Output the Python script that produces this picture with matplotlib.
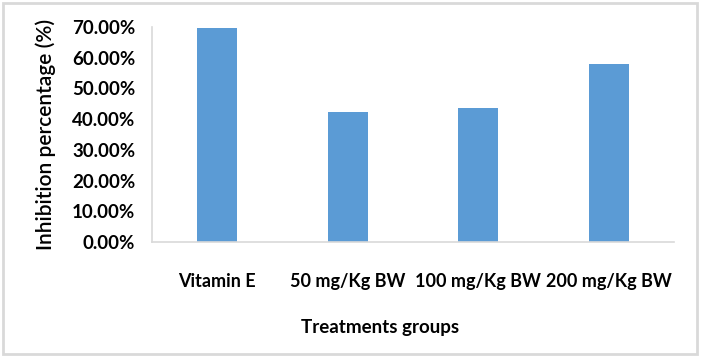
import matplotlib
matplotlib.use("Agg")
import matplotlib.pyplot as plt
from matplotlib.patches import Rectangle
from matplotlib.ticker import PercentFormatter

groups = ["Vitamin E", "50 mg/Kg BW", "100 mg/Kg BW", "200 mg/Kg BW"]
inhibition = [0.697, 0.423, 0.436, 0.578]
yticks = [0.0, 0.1, 0.2, 0.3, 0.4, 0.5, 0.6, 0.7]

plt.rcParams["font.family"] = ["Lato", "DejaVu Sans"]

fig = plt.figure(figsize=(7.01, 3.57), dpi=100)
ax = fig.add_axes([0.2168, 0.3221, 0.7447, 0.6023])

x = range(len(groups))
ax.bar(x, inhibition, width=0.31, color="#5b9bd5")

ax.set_xlim(-0.5, len(groups) - 0.5)
ax.set_ylim(0, 0.7)
ax.set_yticks(yticks)
ax.yaxis.set_major_formatter(PercentFormatter(1.0, decimals=2))
ax.set_xticks(list(x))
ax.set_xticklabels(groups)

for lab in ax.get_yticklabels():
    lab.set_fontsize(13.5)
    lab.set_fontweight("bold")
for lab in ax.get_xticklabels():
    lab.set_fontsize(13)
    lab.set_fontweight("bold")

ax.tick_params(axis="both", length=0)
ax.tick_params(axis="x", pad=22)
ax.tick_params(axis="y", pad=12)

for side in ["top", "right"]:
    ax.spines[side].set_visible(False)
for side in ["left", "bottom"]:
    ax.spines[side].set_color("#d9d9d9")
    ax.spines[side].set_linewidth(1.2)

ax.set_ylabel("Inhibition percentage (%)", fontsize=15, fontweight="semibold")
ax.yaxis.set_label_coords(-0.183, 0.5)
ax.set_xlabel("Treatments groups", fontsize=13.5, fontweight="bold")
ax.xaxis.set_label_coords(0.437, -0.36)

# chart border
fig.patches.append(Rectangle((0.004, 0.008), 0.99, 0.983, transform=fig.transFigure,
                             fill=False, edgecolor="#d9d9d9", linewidth=2))

plt.savefig("out.png", dpi=100)
plt.close()
